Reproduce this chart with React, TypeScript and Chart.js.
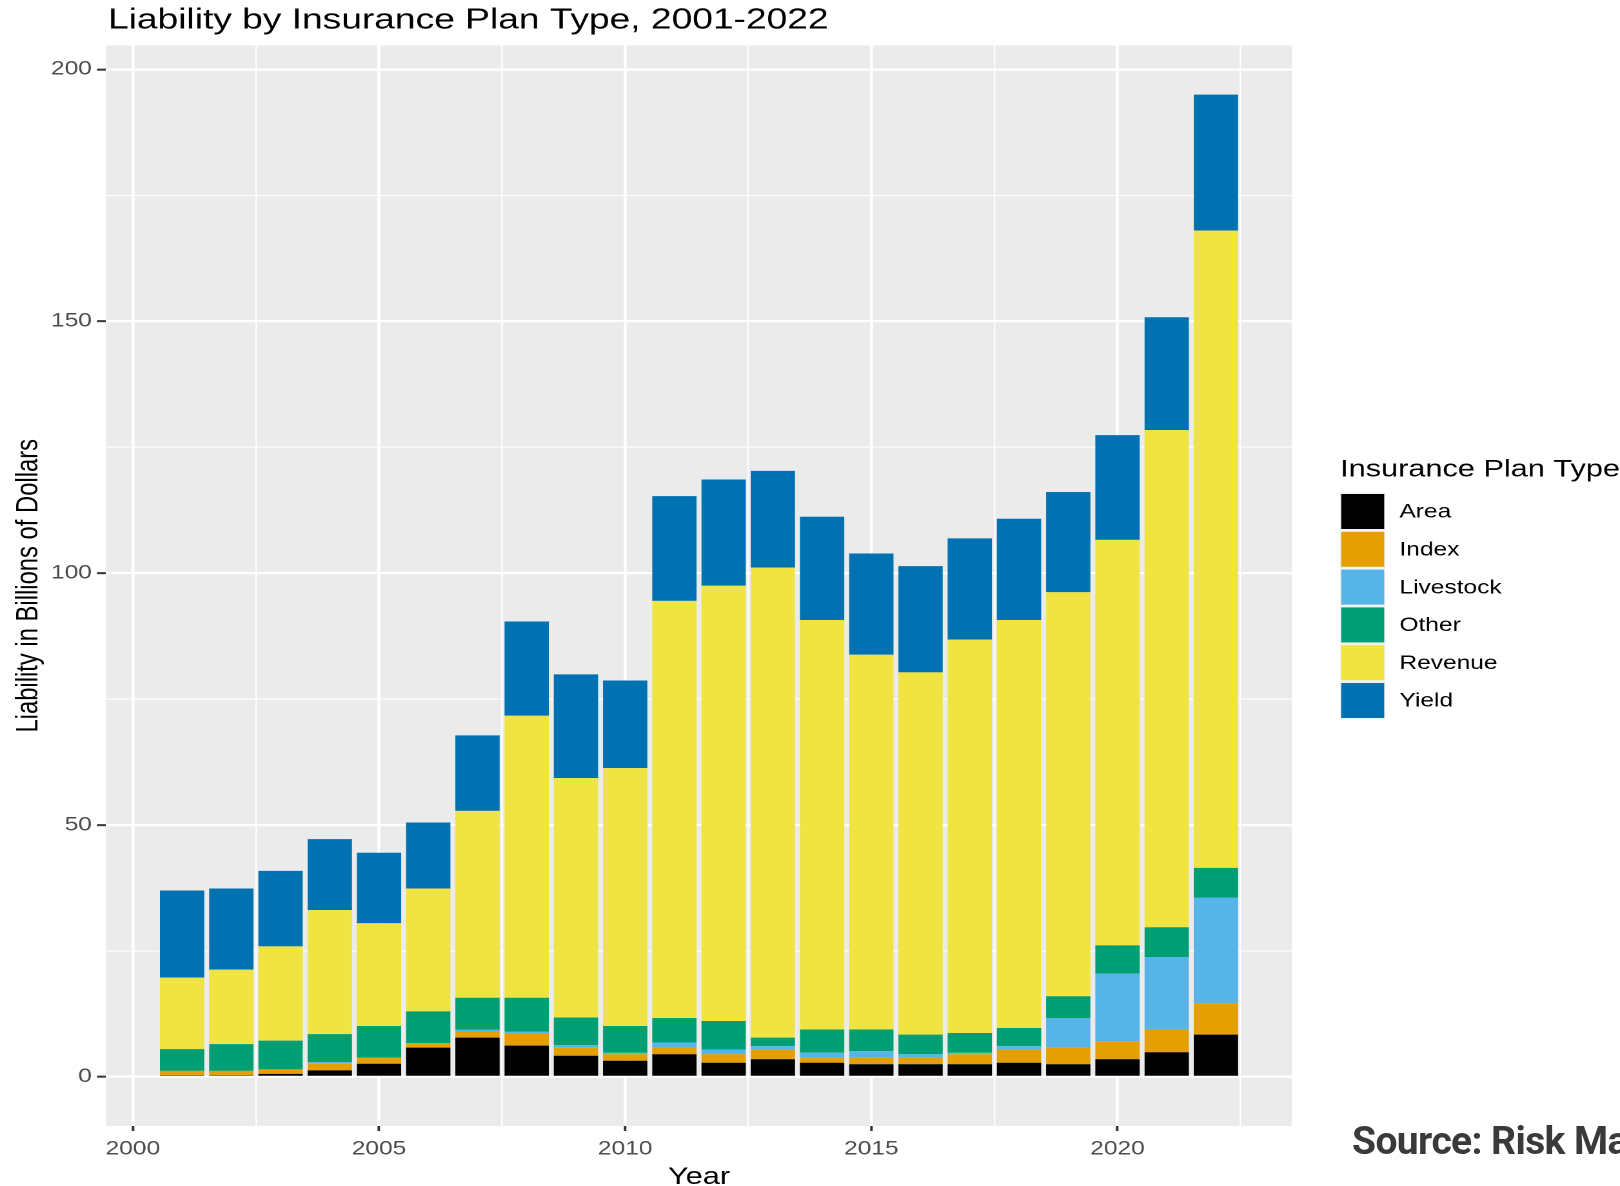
import React, { useEffect, useRef } from "react";
import { Chart, registerables } from "chart.js";

Chart.register(...registerables);

const TITLE = "Liability by Insurance Plan Type, 2001-2022";
const X_TITLE = "Year";
const Y_TITLE = "Liability in Billions of Dollars";
const LEGEND_TITLE = "Insurance Plan Type";
const SOURCE = "Source: Risk Management Agency";

const years = [2001, 2002, 2003, 2004, 2005, 2006, 2007, 2008, 2009, 2010, 2011, 2012, 2013, 2014, 2015, 2016, 2017, 2018, 2019, 2020, 2021, 2022];
const area = [0.3, 0.3, 0.6, 1.3, 2.6, 5.8, 7.8, 6.2, 4.2, 3.2, 4.5, 2.8, 3.5, 2.8, 2.5, 2.5, 2.5, 2.8, 2.5, 3.5, 4.9, 8.4];
const indexPlan = [0.9, 0.9, 0.9, 1.4, 1.2, 0.9, 1.3, 2.5, 1.7, 1.3, 1.3, 1.7, 1.9, 1.0, 1.3, 1.3, 2.0, 2.6, 3.3, 3.6, 4.5, 6.2];
const livestock = [0, 0, 0, 0.2, 0, 0, 0.3, 0.3, 0.4, 0.3, 1.0, 0.9, 0.7, 1.0, 1.3, 0.7, 0.3, 0.7, 5.9, 13.4, 14.4, 21.0];
const other = [4.3, 5.3, 5.7, 5.6, 6.3, 6.3, 6.3, 6.7, 5.5, 5.3, 4.9, 5.7, 1.7, 4.6, 4.3, 3.9, 3.9, 3.6, 4.3, 5.6, 5.9, 5.9];
const revenue = [14.2, 14.8, 18.7, 24.6, 20.4, 24.4, 37.1, 56.0, 47.5, 51.2, 82.8, 86.4, 93.3, 81.3, 74.4, 71.9, 78.1, 81.0, 80.2, 80.5, 98.7, 126.5];
const yieldPlan = [17.3, 16.1, 15.0, 14.1, 14.0, 13.1, 15.0, 18.7, 20.6, 17.4, 20.8, 21.1, 19.2, 20.5, 20.1, 21.1, 20.1, 20.1, 19.9, 20.8, 22.4, 27.0];

const seriesNames = ["Area", "Index", "Livestock", "Other", "Revenue", "Yield"];
const seriesValues = [area, indexPlan, livestock, other, revenue, yieldPlan];
const seriesColors = ["#000000", "#E69F00", "#56B4E9", "#009E73", "#F0E442", "#0072B2"];

const xTicks = [2000, 2002.5, 2005, 2007.5, 2010, 2012.5, 2015, 2017.5, 2020, 2022.5];
const yTicks = [0, 25, 50, 75, 100, 125, 150, 175, 200];

// The reference image is horizontally stretched; render at a narrower logical width and stretch with CSS.
const STRETCH = 1.2898;
const CSS_W = 1620;
const CSS_H = 1186;
const LOGICAL_W = Math.round(CSS_W / STRETCH);
const FONT = '"Liberation Sans", Arial, sans-serif';

const panelPlugin = {
  id: "panelBg",
  beforeDraw(chart: any) {
    const { ctx, chartArea } = chart;
    ctx.save();
    ctx.fillStyle = "#FFFFFF";
    ctx.fillRect(0, 0, chart.width, chart.height);
    ctx.fillStyle = "#EBEBEB";
    ctx.fillRect(chartArea.left, chartArea.top, chartArea.right - chartArea.left, chartArea.bottom - chartArea.top);
    ctx.restore();
  },
};

const textPlugin = {
  id: "titleLegend",
  afterDraw(chart: any) {
    const { ctx } = chart;
    ctx.save();
    ctx.textBaseline = "middle";
    ctx.textAlign = "left";
    ctx.fillStyle = "#000000";
    ctx.font = `28.8px ${FONT}`;
    ctx.fillText(TITLE, 83.7, 20.8);

    const lx = 1039;
    ctx.font = `23.8px ${FONT}`;
    ctx.fillText(LEGEND_TITLE, lx, 470);
    const step = 37.8;
    const first = 511.5;
    chart.data.datasets.forEach((ds: any, i: number) => {
      const cy = first + i * step;
      ctx.fillStyle = "#F2F2F2";
      ctx.fillRect(lx, cy - step / 2, 35, step);
      ctx.fillStyle = ds.backgroundColor;
      ctx.fillRect(lx + 0.8, cy - 17.5, 33.4, 35);
      ctx.fillStyle = "#000000";
      ctx.font = `19px ${FONT}`;
      ctx.fillText(ds.label, 1085, cy + 1);
    });
    ctx.restore();
  },
};

export default function App() {
  const canvasRef = useRef<HTMLCanvasElement | null>(null);

  useEffect(() => {
    document.documentElement.style.overflow = "hidden";
    const canvas = canvasRef.current;
    if (!canvas) return;
    const datasets = seriesNames.map((name, i) => ({
      label: name,
      data: years.map((yr, j) => ({ x: yr, y: seriesValues[i][j] })),
      backgroundColor: seriesColors[i],
      borderWidth: 0,
      barPercentage: 0.9,
      categoryPercentage: 1.0,
    }));

    const isMajorX = (v: number) => Math.abs(v % 5) < 1e-6;
    const isMajorY = (v: number) => Math.abs(v % 50) < 1e-6;

    const chart = new Chart(canvas, {
      type: "bar",
      data: { datasets } as any,
      plugins: [panelPlugin, textPlugin],
      options: {
        responsive: false,
        animation: false,
        devicePixelRatio: 2,
        layout: { padding: { top: 45.5, right: LOGICAL_W - 1001.7, left: 0, bottom: 0 } },
        plugins: {
          legend: { display: false },
          title: { display: false },
          tooltip: { enabled: false },
        },
        scales: {
          x: {
            type: "linear",
            stacked: true,
            offset: false,
            min: 1999.455,
            max: 2023.545,
            afterBuildTicks: (scale: any) => {
              scale.ticks = xTicks.map((v) => ({ value: v }));
            },
            afterFit: (scale: any) => {
              scale.height = 60;
            },
            border: { display: false },
            grid: {
              offset: false,
              color: "#FFFFFF",
              lineWidth: (c: any) => (c.tick && isMajorX(c.tick.value) ? 2.3 : 1.15),
              tickColor: (c: any) => (c.tick && isMajorX(c.tick.value) ? "#333333" : "rgba(0,0,0,0)"),
              tickWidth: 2,
              tickLength: 5,
              drawTicks: true,
            },
            ticks: {
              autoSkip: false,
              maxRotation: 0,
              minRotation: 0,
              padding: 7,
              color: "#4D4D4D",
              font: { family: FONT, size: 19, lineHeight: 1.2 },
              callback: (v: any) => (isMajorX(Number(v)) ? String(v) : ""),
            },
            title: {
              display: true,
              text: X_TITLE,
              color: "#000000",
              font: { family: FONT, size: 23.8, lineHeight: 1 },
              padding: { top: 0, bottom: -3.5 },
            },
          },
          y: {
            type: "linear",
            stacked: true,
            min: -9.75,
            max: 204.75,
            afterBuildTicks: (scale: any) => {
              scale.ticks = yTicks.map((v) => ({ value: v }));
            },
            afterFit: (scale: any) => {
              scale.width = 82.2;
            },
            border: { display: false },
            grid: {
              color: "#FFFFFF",
              lineWidth: (c: any) => (c.tick && isMajorY(c.tick.value) ? 2.3 : 1.15),
              tickColor: (c: any) => (c.tick && isMajorY(c.tick.value) ? "#333333" : "rgba(0,0,0,0)"),
              tickWidth: 2,
              tickLength: 7,
              drawTicks: true,
            },
            ticks: {
              padding: 4,
              color: "#4D4D4D",
              font: { family: FONT, size: 19 },
              callback: (v: any) => (isMajorY(Number(v)) ? String(v) : ""),
            },
            title: {
              display: true,
              text: Y_TITLE,
              color: "#000000",
              font: { family: FONT, size: 23.8, lineHeight: 1 },
              padding: { top: 10.6, bottom: 0 },
            },
          },
        },
      } as any,
    });
    return () => chart.destroy();
  }, []);

  return (
    <div style={{ position: "absolute", left: 0, top: 0, width: CSS_W, height: CSS_H, overflow: "hidden", background: "#FFFFFF" }}>
      <canvas
        ref={canvasRef}
        width={LOGICAL_W}
        height={CSS_H}
        style={{ width: CSS_W + "px", height: CSS_H + "px", display: "block" }}
      />
      <div
        style={{
          position: "absolute",
          left: 1352,
          top: 1122,
          fontFamily: "Roboto, sans-serif",
          fontWeight: 700,
          fontSize: 39,
          lineHeight: "39px",
          letterSpacing: "-0.6px",
          color: "#3A3A3A",
          whiteSpace: "nowrap",
        }}
      >
        {SOURCE}
      </div>
    </div>
  );
}
